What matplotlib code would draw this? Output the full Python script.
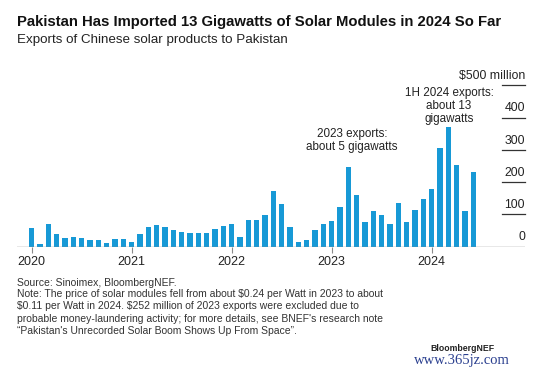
import numpy as np
import matplotlib
matplotlib.use("Agg")
import matplotlib.pyplot as plt
import matplotlib.transforms as mtransforms

plt.rcParams['font.family'] = ['Liberation Sans', 'DejaVu Sans']
plt.rcParams['text.parse_math'] = False

# monthly exports, $ million, Jan 2020 - Jun 2024
exports = [57, 8, 69, 38, 28, 31, 28, 22, 22, 11, 23, 24,
           16, 39, 60, 67, 62, 52, 47, 41, 41, 41, 56, 64,
           71, 31, 84, 83, 99, 173, 131, 62, 16, 21, 53, 70,
           81, 124, 247, 160, 76, 110, 99, 71, 134, 77, 113, 149,
           179, 305, 372, 253, 109, 231]
year_labels = ["2020", "2021", "2022", "2023", "2024"]
y_ticks = [0, 100, 200, 300, 400, 500]
y_tick_labels = ["0", "100", "200", "300", "400", "$500 million"]

BLUE = "#1799d6"
W, H = 550, 368

fig = plt.figure(figsize=(W / 100, H / 100), dpi=100)

# axes placed in pixel coordinates
left_px, right_px = 17, 525
zero_px = 246.7
px_per_unit = 32.3 / 100
ymax = 520
top_px = zero_px - ymax * px_per_unit
ax = fig.add_axes([left_px / W, 1 - zero_px / H,
                   (right_px - left_px) / W, (zero_px - top_px) / H])

month_px = 8.33
first_px = 31.7
x = np.arange(len(exports))
ax.bar(x, exports, width=0.64, color=BLUE, zorder=2)
ax.set_xlim((left_px - first_px) / month_px, (right_px - first_px) / month_px)
ax.set_ylim(0, ymax)

for s in ax.spines.values():
    s.set_visible(False)
ax.axhline(0, color="#8a8a8a", lw=1.0, zorder=3)

ax.set_xticks(np.arange(len(year_labels)) * 12)
ax.set_xticklabels(year_labels, fontsize=9, color="#222222")
ax.tick_params(axis="x", length=4, width=0.8, color="#8a8a8a", pad=3)
ax.set_yticks([])

# right-hand value labels sitting on short rules
trans = mtransforms.blended_transform_factory(ax.transAxes, ax.transData)
for v, lab in zip(y_ticks, y_tick_labels):
    if v > 0:
        ax.plot([0.955, 1.0], [v, v], color="#333333", lw=0.9, transform=trans, clip_on=False)
    ax.text(1.0, v + 10, lab, transform=trans, ha="right", va="bottom",
            fontsize=8.8, color="#222222")

ax.text(38.45, 329, "2023 exports:\nabout 5 gigawatts", ha="center", va="center",
        fontsize=8.4, color="#222222", linespacing=1.1)
ax.text(50.1, 435, "1H 2024 exports:\nabout 13\ngigawatts", ha="center", va="center",
        fontsize=8.4, color="#222222", linespacing=1.1)

fig.text(17 / W, 1 - 22 / H, "Pakistan Has Imported 13 Gigawatts of Solar Modules in 2024 So Far",
         fontsize=10.7, fontweight="bold", color="#111111", va="center")
fig.text(17 / W, 1 - 40 / H, "Exports of Chinese solar products to Pakistan",
         fontsize=9.6, color="#222222", va="center")

fig.text(17 / W, 1 - 283 / H, "Source: Sinoimex, BloombergNEF.",
         fontsize=7.5, color="#333333", va="center")
fig.text(17 / W, 1 - 289 / H,
         "Note: The price of solar modules fell from about $0.24 per Watt in 2023 to about\n"
         "$0.11 per Watt in 2024. $252 million of 2023 exports were excluded due to\n"
         "probable money-laundering activity; for more details, see BNEF's research note\n"
         "\u201cPakistan's Unrecorded Solar Boom Shows Up From Space\u201d.",
         fontsize=7.5, color="#333333", va="top", linespacing=1.3)
fig.text(462 / W, 1 - 348.5 / H, "BloombergNEF", fontsize=6.3, fontweight="bold",
         color="#222222", ha="center", va="center")
fig.text(462 / W, 1 - 360.5 / H, "www.365jz.com", fontsize=10.5, family="Liberation Serif",
         color="#2a3f8f", ha="center", va="center")

fig.savefig("out.png", dpi=100)
